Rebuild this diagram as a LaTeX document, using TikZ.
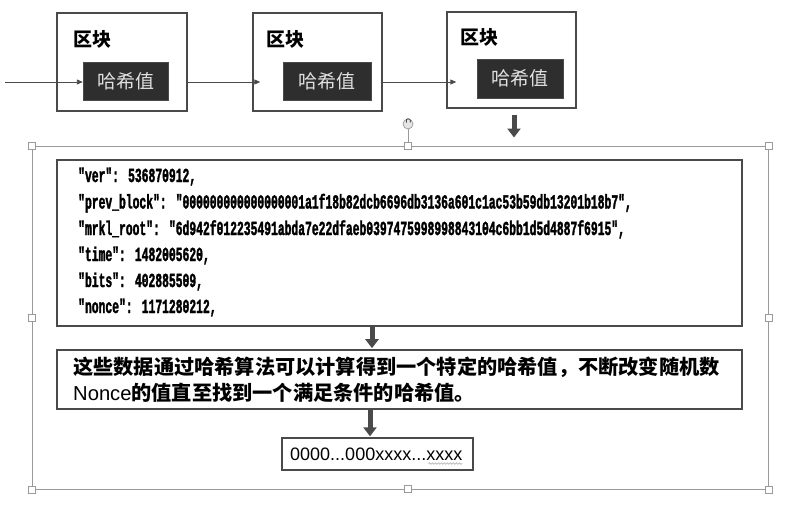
\documentclass[tikz,border=0pt]{standalone}
\usepackage{fontspec}
\setmainfont{Liberation Sans}
\newfontfamily\cjkfont{Noto Sans CJK SC}
\newfontfamily\codefont[FakeStretch=0.57,BoldFeatures={FakeBold=1.6}]{Liberation Mono}
\usetikzlibrary{arrows.meta,decorations.pathmorphing}
\definecolor{linegray}{HTML}{4A4A4A}
\definecolor{darkfill}{HTML}{2E2E2E}
\definecolor{framegray}{HTML}{9A9A9A}
\tikzset{
  blockbox/.style={draw=linegray,line width=1.4pt,fill=white,inner sep=0pt},
  hashbox/.style={fill=darkfill,draw=linegray,inner sep=0pt,text=white!88!black,font=\cjkfont\fontsize{19}{22}\selectfont},
  blocklabel/.style={anchor=west,inner sep=0pt,font=\cjkfont\bfseries\fontsize{19}{22}\selectfont},
  thinarrow/.style={draw=linegray,line width=0.9pt,-{Triangle[length=6pt,width=5pt]}},
  bigarrow/.style={draw=linegray,line width=5pt,-{Triangle[length=9pt,width=13pt]}},
  contentbox/.style={draw=linegray,line width=1.6pt,inner sep=0pt},
  codeline/.style={anchor=base west,inner sep=0pt,font=\codefont\bfseries\fontsize{19.9}{22}\selectfont},
  handle/.style={draw=framegray,fill=white,line width=0.7pt,minimum size=7pt,inner sep=0pt},
}
\begin{document}
\begin{tikzpicture}[x=1pt,y=-1pt]
\useasboundingbox (0,0) rectangle (789,519);
% blocks
\node[blockbox,minimum width=130pt,minimum height=98pt] (b1) at (122,62) {};
\node[blockbox,minimum width=129pt,minimum height=98pt] (b2) at (317.5,62) {};
\node[blockbox,minimum width=129pt,minimum height=96pt] (b3) at (511.5,60) {};
\node[blocklabel] (l1) at (73,39) {区块};
\node[blocklabel] (l2) at (266,39) {区块};
\node[blocklabel] (l3) at (460,37) {区块};
\node[hashbox,minimum width=85pt,minimum height=38pt] (h1) at (125.5,81) {哈希值};
\node[hashbox,minimum width=88pt,minimum height=38pt] (h2) at (327,81) {哈希值};
\node[hashbox,minimum width=86pt,minimum height=39pt] (h3) at (520,78.5) {哈希值};
\coordinate (start) at (5,82);
\draw[thinarrow] (start) -- (h1.west |- start);
\draw[thinarrow] ([yshift=-20pt]b1.east) -- ([yshift=-20pt,xshift=8pt]b2.west);
\draw[thinarrow] ([yshift=-20pt]b1.east -| b2.east) -- ([yshift=-20pt,xshift=10pt]b2.west -| b3.west);
% frame
\node[draw=framegray,line width=1pt,minimum width=736pt,minimum height=343pt,inner sep=0pt] (frame) at (400,317.5) {};
\draw[bigarrow,shorten <=6pt,shorten >=8pt] ([xshift=2.5pt]b3.south) -- ([xshift=2.5pt]b3.south |- frame.north);
% rotation handle
\coordinate (rot) at (408,124);
\draw[framegray,line width=0.7pt] ([yshift=-5pt]rot) -- (408,146);
\node[draw=framegray,fill=white!90!black,circle,minimum size=10pt,inner sep=0pt,line width=0.7pt] (roth) at (rot) {};
\draw[linegray,line width=0.8pt] ([shift={(2,-1.5)}]roth.center) arc[start angle=-40,end angle=220,radius=2.3pt];
% code box
\node[contentbox,minimum width=685pt,minimum height=166pt] (code) at (399.5,243) {};
\node[codeline] (c1) at (78,182) {"ver": 536870912,};
\node[codeline] (c2) at (78,208.5) {"prev\_block": "000000000000000001a1f18b82dcb6696db3136a601c1ac53b59db13201b18b7",};
\node[codeline] (c3) at (78,235) {"mrkl\_root": "6d942f012235491abda7e22dfaeb0397475998998843104c6bb1d5d4887f6915",};
\node[codeline] (c4) at (78,261) {"time": 1482005620,};
\node[codeline] (c5) at (78,287) {"bits": 402885509,};
\node[codeline] (c6) at (78,313) {"nonce": 1171280212,};
% description box
\node[contentbox,minimum width=685pt,minimum height=59pt] (desc) at (399.5,379.5) {};
\node[anchor=west,inner sep=0pt,align=left,font=\cjkfont\bfseries\fontsize{20.2}{26}\selectfont] (dtext) at (73,380)
  {这些数据通过哈希算法可以计算得到一个特定的哈希值，不断改变随机数\\{\normalfont\mdseries Nonce}的值直至找到一个满足条件的哈希值。};
% result box
\node[contentbox,line width=1.4pt,minimum width=191pt,minimum height=32pt] (res) at (377.5,454) {};
\node[anchor=west,inner sep=0pt,font=\fontsize{18}{20}\selectfont] (rtext) at (290,454) {0000...000xxxx...xxxx};
\draw[framegray!80!white,line width=0.6pt,decorate,decoration={snake,amplitude=0.8pt,segment length=3pt}] ([shift={(-34,3)}]rtext.south east) -- ([shift={(0,3)}]rtext.south east);
\draw[bigarrow,shorten >=1pt] ([xshift=-27.5pt]code.south) -- ([xshift=-27.5pt]code.south |- desc.north);
\draw[bigarrow,shorten >=1pt] ([xshift=-7.5pt]res.north |- desc.south) -- ([xshift=-7.5pt]res.north);
% handles
\foreach \a in {north west,north east,west,east,south west,south east}{
  \node[handle] at (frame.\a) {};
}
\node[handle] (tophandle) at (408,146) {};
\node[handle] (bothandle) at (408,489) {};
\end{tikzpicture}
\end{document}
